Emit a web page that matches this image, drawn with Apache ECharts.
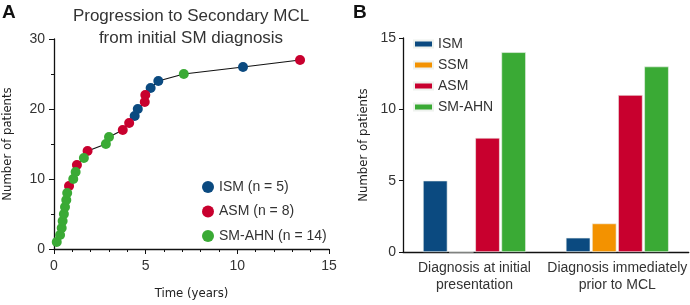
<!DOCTYPE html>
<html>
<head>
<meta charset="utf-8">
<script src="https://cdn.jsdelivr.net/npm/echarts@6/dist/echarts.min.js"></script>
<style>
  html, body { margin: 0; padding: 0; background: #fff; }
  #chart { width: 690px; height: 305px; }
</style>
</head>
<body>
<div id="chart"></div>
<script>
// Panel A: time to secondary MCL, one point per patient
const years    = [0.15, 0.33, 0.42, 0.47, 0.54, 0.6, 0.67, 0.72, 0.82, 1.05, 1.18, 1.25, 1.63, 1.83,
                  2.83, 3.0, 3.75, 4.1, 4.4, 4.57, 4.95, 4.98, 5.27, 5.69, 7.08, 10.31, 13.42];
const patients = [1, 2, 3, 4, 5, 6, 7, 8, 9, 10, 11, 12, 13, 14,
                  15, 16, 17, 18, 19, 20, 21, 22, 23, 24, 25, 26, 27];
const smType   = ['SM-AHN', 'SM-AHN', 'SM-AHN', 'SM-AHN', 'SM-AHN', 'SM-AHN', 'SM-AHN', 'SM-AHN', 'ASM',
                  'SM-AHN', 'SM-AHN', 'ASM', 'SM-AHN', 'ASM', 'SM-AHN', 'SM-AHN', 'ASM', 'ASM',
                  'ISM', 'ISM', 'ASM', 'ASM', 'ISM', 'ISM', 'SM-AHN', 'ISM', 'ASM'];
const groupsA  = ['ISM', 'ASM', 'SM-AHN'];
const labelsA  = ['ISM (n = 5)', 'ASM (n = 8)', 'SM-AHN (n = 14)'];

// Panel B: diagnosis counts
const stages   = ['Diagnosis at initial\npresentation', 'Diagnosis immediately\nprior to MCL'];
const groupsB  = ['ISM', 'SSM', 'ASM', 'SM-AHN'];
const ismB     = [5, 1];
const ssmB     = [0, 2];
const asmB     = [8, 11];
const smahnB   = [14, 13];

const colors = { 'ISM': '#0b4a80', 'SSM': '#f39200', 'ASM': '#c8002e', 'SM-AHN': '#3aaa35' };
const narrow = '"DejaVu Sans Condensed", "Liberation Sans Narrow", sans-serif';
const sans = '"Liberation Sans", Arial, sans-serif';

const chart = echarts.init(document.getElementById('chart'));

const linePts = years.map((x, i) => [x, patients[i]]);
const scatterA = groupsA.map((g, k) => ({
  name: labelsA[k],
  type: 'scatter',
  xAxisIndex: 0, yAxisIndex: 0,
  symbolSize: 10,
  z: 3,
  itemStyle: { color: colors[g], opacity: 1 },
  data: linePts.filter((p, i) => smType[i] === g)
}));

const barData = [ismB, ssmB, asmB, smahnB];
const barsB = groupsB.map((g, k) => ({
  name: g,
  type: 'bar',
  xAxisIndex: 1, yAxisIndex: 1,
  barGap: '7%',
  barCategoryGap: '28%',
  itemStyle: { color: colors[g], borderColor: '#eef2ee', borderWidth: 0.6 },
  data: barData[k]
}));

const axisLineStyle = { lineStyle: { color: '#111', width: 1.3 } };

chart.setOption({
  animation: false,
  textStyle: { fontFamily: sans },
  graphic: [
    { type: 'text', left: 2, top: 3, style: { text: 'A', font: 'bold 19px ' + sans, fill: '#111' } },
    { type: 'text', left: 353, top: 3, style: { text: 'B', font: 'bold 19px ' + sans, fill: '#111' } },
    { type: 'text', x: 191, y: 5, style: {
        text: 'Progression to Secondary MCL\nfrom initial SM diagnosis',
        font: '17px ' + sans, fill: '#333', align: 'center', lineHeight: 22 } }
  ],
  grid: [
    { left: 54, right: 361, top: 39, bottom: 53 },
    { left: 403, right: 0, top: 38, bottom: 53 }
  ],
  xAxis: [
    {
      gridIndex: 0, type: 'value', min: 0, max: 15, interval: 5,
      name: 'Time (years)', nameLocation: 'middle', nameGap: 38,
      nameTextStyle: { fontFamily: narrow, fontSize: 13, color: '#222' },
      axisLine: axisLineStyle,
      axisTick: { show: true, length: 5, lineStyle: { color: '#111' } },
      minorTick: { show: true, splitNumber: 5, length: 3, lineStyle: { color: '#111' } },
      axisLabel: { fontSize: 14, color: '#333', margin: 10 },
      splitLine: { show: false }
    },
    {
      gridIndex: 1, type: 'category', data: stages,
      axisLine: axisLineStyle,
      axisTick: { show: false },
      axisLabel: { fontSize: 14, color: '#333', margin: 8, lineHeight: 17, interval: 0 }
    }
  ],
  yAxis: [
    {
      gridIndex: 0, type: 'value', min: 0, max: 30, interval: 10,
      name: 'Number of patients', nameLocation: 'middle', nameGap: 40,
      nameTextStyle: { fontFamily: narrow, fontSize: 13, color: '#222' },
      axisLine: { show: true, lineStyle: { color: '#111', width: 1.3 } },
      axisTick: { show: true, length: 5, lineStyle: { color: '#111' } },
      minorTick: { show: true, splitNumber: 2, length: 3, lineStyle: { color: '#111' } },
      axisLabel: { fontSize: 14, color: '#333', margin: 9 },
      splitLine: { show: false }
    },
    {
      gridIndex: 1, type: 'value', min: 0, max: 15, interval: 5,
      name: 'Number of patients', nameLocation: 'middle', nameGap: 33,
      nameTextStyle: { fontFamily: narrow, fontSize: 13, color: '#222' },
      axisLine: { show: true, lineStyle: { color: '#111', width: 1.3 } },
      axisTick: { show: true, length: 4, lineStyle: { color: '#111' } },
      axisLabel: { fontSize: 14, color: '#333', margin: 7 },
      splitLine: { show: false }
    }
  ],
  legend: [
    {
      data: labelsA, orient: 'vertical', left: 197, top: 175,
      icon: 'circle', itemWidth: 12, itemHeight: 12, itemGap: 10.5,
      itemStyle: { borderWidth: 0 },
      textStyle: { fontSize: 14, color: '#333' }
    },
    {
      data: groupsB, orient: 'vertical', left: 408, top: 32,
      icon: 'rect', itemWidth: 19, itemHeight: 7, itemGap: 7,
      textStyle: { fontSize: 14, color: '#333' }
    }
  ],
  series: [
    {
      name: 'progression', type: 'line',
      xAxisIndex: 0, yAxisIndex: 0,
      showSymbol: false, z: 2,
      lineStyle: { color: '#111', width: 1.2 },
      data: linePts
    }
  ].concat(scatterA, barsB)
});
</script>
</body>
</html>
